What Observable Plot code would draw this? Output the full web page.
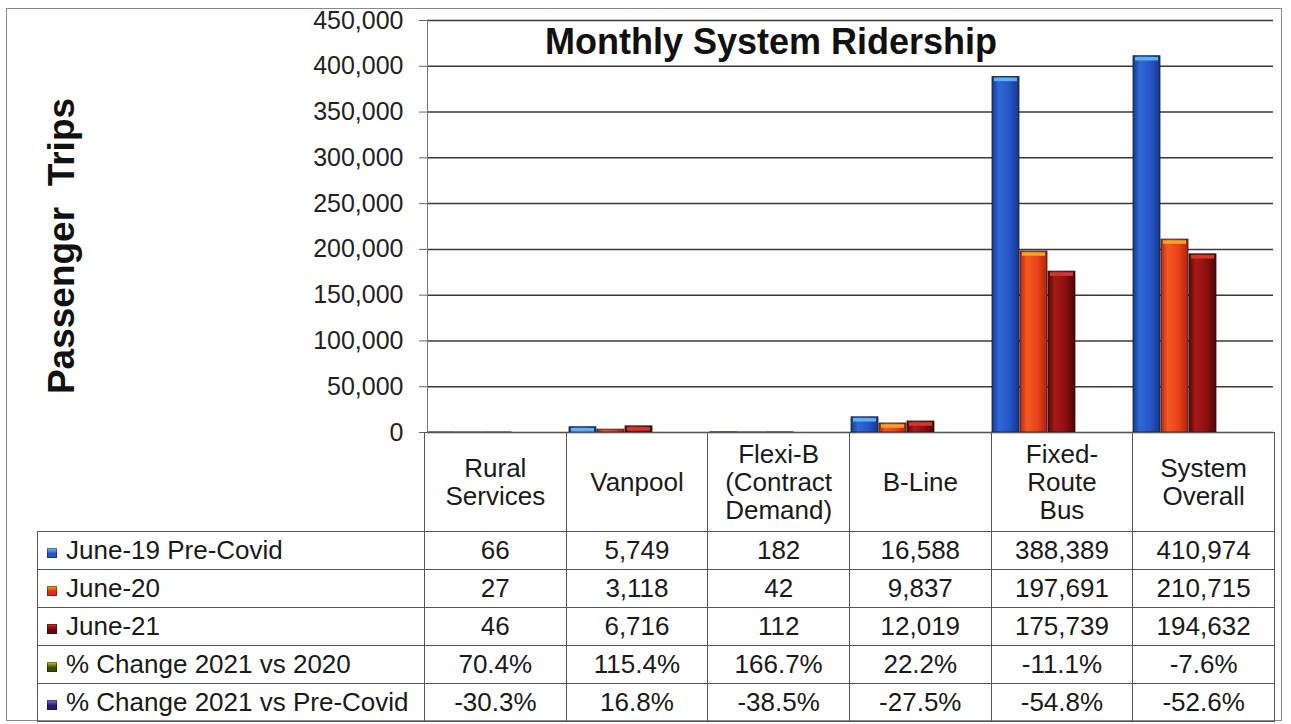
<!DOCTYPE html>
<html>
<head>
<meta charset="utf-8">
<script src="https://cdn.jsdelivr.net/npm/d3@7"></script>
<script src="https://cdn.jsdelivr.net/npm/@observablehq/plot@0.6"></script>
<style>
  html, body { margin: 0; padding: 0; background: #fff; }
  #wrap { position: relative; width: 1291px; height: 724px; overflow: hidden; font-family: "Liberation Sans", Arial, sans-serif; color: #1a1a1a; }
  #outer { position: absolute; left: 6px; top: 8px; width: 1276px; height: 713px; border: 1px solid #8a8a8a; box-sizing: border-box; }
  #chart { position: absolute; left: 0; top: 0; }
  #title { position: absolute; left: 771px; top: 21px; transform: translateX(-50%); font-size: 36px; font-weight: bold; white-space: nowrap; color: #111; }
  #ylab { position: absolute; left: 62px; top: 246px; transform: translate(-50%, -50%) rotate(-90deg); font-size: 37px; font-weight: bold; white-space: pre; color: #111; }
  table { position: absolute; left: 37px; top: 432px; border-collapse: collapse; table-layout: fixed; font-size: 26px; }
  td { border: 1.5px solid #555; text-align: center; padding: 0; height: 37px; line-height: 37px; white-space: nowrap; }
  td.hdr { height: 98px; line-height: 28px; white-space: pre; }
  td.blank { border-top: none; border-left: none; }
  td.lab { text-align: left; padding-left: 9px; }
  .key { display: inline-block; width: 10px; height: 10px; margin-right: 9px; vertical-align: 1px; box-shadow: inset 0 0 0 1px rgba(0,0,0,0.35); }
</style>
</head>
<body>
<div id="wrap">
  <div id="outer"></div>
  <div id="chart"></div>
  <div id="title">Monthly System Ridership</div>
  <div id="ylab">Passenger  Trips</div>
</div>
<script>
// ---- data ----
const categories = ["Rural Services", "Vanpool", "Flexi-B (Contract Demand)", "B-Line", "Fixed-Route Bus", "System Overall"];
const headerLabels = ["Rural\nServices", "Vanpool", "Flexi-B\n(Contract\nDemand)", "B-Line", "Fixed-\nRoute\nBus", "System\nOverall"];
const series = ["June-19 Pre-Covid", "June-20", "June-21"];
const june19 = [66, 5749, 182, 16588, 388389, 410974];
const june20 = [27, 3118, 42, 9837, 197691, 210715];
const june21 = [46, 6716, 112, 12019, 175739, 194632];
const change2021vs2020 = ["70.4%", "115.4%", "166.7%", "22.2%", "-11.1%", "-7.6%"];
const change2021vsPre = ["-30.3%", "16.8%", "-38.5%", "-27.5%", "-54.8%", "-52.6%"];
const rowLabels = ["June-19 Pre-Covid", "June-20", "June-21", "% Change 2021 vs 2020", "% Change 2021 vs Pre-Covid"];
const yTicks = [0, 50000, 100000, 150000, 200000, 250000, 300000, 350000, 400000, 450000];

// ---- styles ----
const barGradients = [
  ["#163a8c", "#2f68d8", "#2456c6", "#15368a"],
  ["#b8280c", "#f45a22", "#e8421a", "#b0240a"],
  ["#5c0606", "#a81a16", "#8c1010", "#500404"]
];
const capColors = ["#5fb2f0", "#f3a424", "#d23a2c"];
const keyGradients = [
  ["#7cc4f4", "#2456c6"],
  ["#f5a020", "#d8301a"],
  ["#d03030", "#6a0808"],
  ["#c8d020", "#3a5008"],
  ["#7a70d8", "#2a1a70"]
];

const values = [june19, june20, june21];
const rows = [];
series.forEach((s, i) => categories.forEach((c, j) => rows.push({category: c, series: s, value: values[i][j]})));

const barMarks = [];
series.forEach((s, i) => {
  const d = rows.filter(r => r.series === s);
  barMarks.push(Plot.barY(d, {fx: "category", x: "series", y: "value", fill: `url(#bar${i})`, stroke: "#1a1a2a", strokeWidth: 0.8}));
  barMarks.push(Plot.tickY(d.filter(r => r.value > 5000), {fx: "category", x: "series", y: "value", stroke: capColors[i], strokeWidth: 3.5, dy: 2.5, insetLeft: 2, insetRight: 2}));
});

const chart = Plot.plot({
  width: 1291,
  height: 450,
  marginLeft: 424,
  marginRight: 16,
  marginTop: 20,
  marginBottom: 18,
  style: {fontFamily: "'Liberation Sans', Arial, sans-serif", background: "transparent", color: "#222"},
  fx: {domain: categories, padding: 0, axis: null, label: null},
  x: {domain: [...series, "·", "··"], padding: 0.02, axis: null},
  y: {domain: [0, 450000], axis: null},
  marks: [
    Plot.gridY(yTicks, {stroke: "#3a3a3a", strokeOpacity: 1, strokeWidth: 1.5}),
    Plot.axisY({ticks: yTicks, tickFormat: d3.format(","), tickSize: 8, tickPadding: 16, fontSize: 25, label: null, stroke: "#666", fill: "#222"}),
    Plot.frame({anchor: "left", facetAnchor: "left", stroke: "#777"}),
    Plot.ruleY([0], {stroke: "#777"}),
    ...barMarks
  ]
});

// gradients for the 3-D looking bars
const svg = d3.select(chart.tagName.toLowerCase() === "svg" ? chart : chart.querySelector("svg"));
const defs = svg.insert("defs", ":first-child");
barGradients.forEach((g, i) => {
  const lg = defs.append("linearGradient").attr("id", `bar${i}`).attr("x1", 0).attr("x2", 1).attr("y1", 0).attr("y2", 0);
  [0, 0.25, 0.65, 1].forEach((o, k) => lg.append("stop").attr("offset", o).attr("stop-color", g[k]));
});
document.getElementById("chart").appendChild(chart);

// ---- data table ----
const table = d3.select("#wrap").append("table");
const colgroup = table.append("colgroup");
colgroup.append("col").style("width", "387px");
categories.forEach(() => colgroup.append("col").style("width", "141.67px"));
const hr = table.append("tr");
hr.append("td").attr("class", "blank");
headerLabels.forEach(h => hr.append("td").attr("class", "hdr").text(h));
const fmt = d3.format(",");
const tableRows = [june19.map(fmt), june20.map(fmt), june21.map(fmt), change2021vs2020, change2021vsPre];
rowLabels.forEach((lab, i) => {
  const tr = table.append("tr");
  const td = tr.append("td").attr("class", "lab");
  td.append("span").attr("class", "key").style("background", `linear-gradient(180deg, ${keyGradients[i][0]} 0%, ${keyGradients[i][1]} 55%)`);
  td.append("span").text(lab);
  tableRows[i].forEach(v => tr.append("td").text(v));
});
</script>
</body>
</html>
